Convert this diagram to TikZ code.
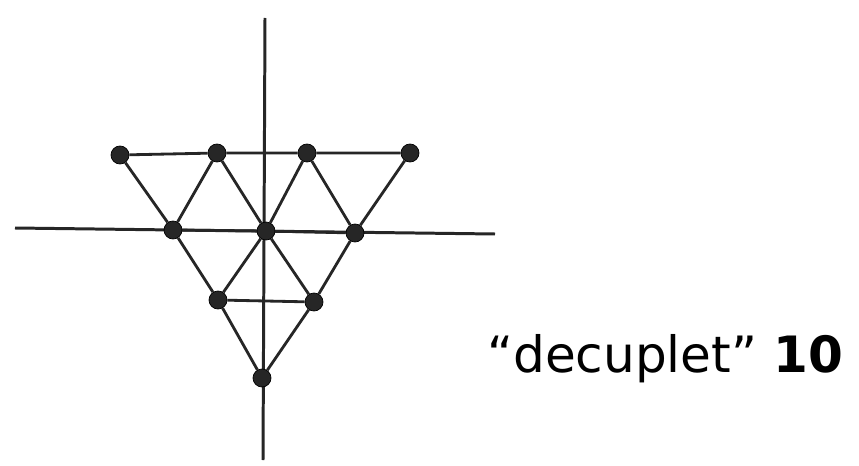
\documentclass[tikz,border=0pt]{standalone}
\usepackage{fontspec}
\setmainfont{DejaVu Sans}
\begin{document}
\begin{tikzpicture}[x=0.02cm,y=-0.02cm,
  dot/.style={circle,fill=black!85,draw=black,inner sep=0pt,minimum size=0.36cm},
  edge/.style={line width=1.6pt,black!85},
  axis/.style={line width=1.7pt,black!85}]
\useasboundingbox[fill=white] (0,0) rectangle (859,466);
% axes
\coordinate (yt) at (265,18);
\coordinate (yb) at (263,460);
\coordinate (xl) at (15,228);
\coordinate (xr) at (495,234);
\draw[axis] (yt) -- (yb);
\draw[axis] (xl) -- (xr);
% dots
\node[dot] (a1) at (120,155) {};
\node[dot] (a2) at (217,153) {};
\node[dot] (a3) at (307,153) {};
\node[dot] (a4) at (410,153) {};
\node[dot] (b1) at (173,230) {};
\node[dot] (b2) at (266,231) {};
\node[dot] (b3) at (355,233) {};
\node[dot] (c1) at (218,300) {};
\node[dot] (c2) at (314,302) {};
\node[dot] (d1) at (262,378) {};
% top row
\draw[edge] (a1) -- (a2) -- (a3) -- (a4);
% top to middle
\draw[edge] (a1) -- (b1);
\draw[edge] (a2) -- (b1);
\draw[edge] (a2) -- (b2);
\draw[edge] (a3) -- (b2);
\draw[edge] (a3) -- (b3);
\draw[edge] (a4) -- (b3);
% middle row
\draw[edge] (b1) -- (b2) -- (b3);
% middle to lower
\draw[edge] (b1) -- (c1);
\draw[edge] (b2) -- (c1);
\draw[edge] (b2) -- (c2);
\draw[edge] (b3) -- (c2);
\draw[edge] (c1) -- (c2);
\draw[edge] (c1) -- (d1);
\draw[edge] (c2) -- (d1);
% label
\node[anchor=base west,font=\fontsize{28.5}{34}\selectfont,inner sep=0pt] (lbl) at (487,372) {“decuplet” \textbf{10}};
\end{tikzpicture}
\end{document}
